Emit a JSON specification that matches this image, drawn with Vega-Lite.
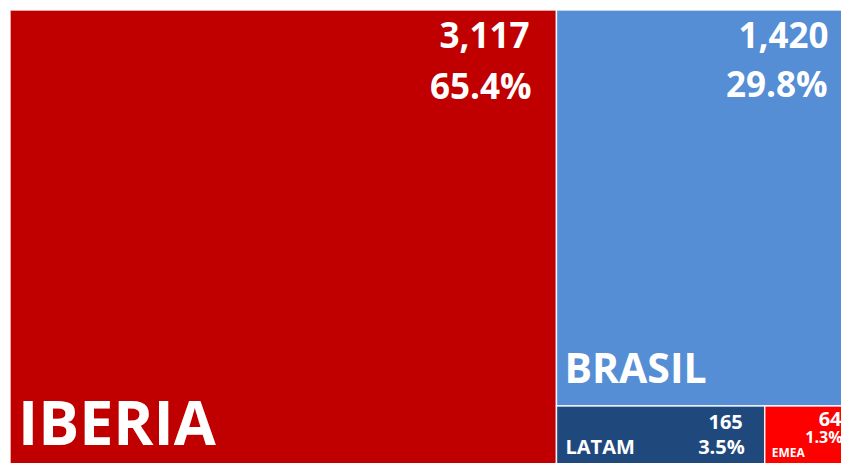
{
  "$schema": "https://vega.github.io/schema/vega-lite/v6.json",
  "width": 831,
  "height": 453,
  "autosize": "none",
  "padding": {"left": 10, "top": 10, "right": 0, "bottom": 0},
  "background": "white",
  "config": {"view": {"stroke": null}, "text": {"font": "Open Sans", "fontWeight": "bold", "color": "white", "fill": "white"}},
  "data": {
    "values": [
      {"name": "IBERIA", "value": 3117, "col": "A", "row": 1, "ord": 1},
      {"name": "BRASIL", "value": 1420, "col": "B", "row": 1, "ord": 2},
      {"name": "LATAM", "value": 165, "col": "B", "row": 2, "ord": 3},
      {"name": "EMEA", "value": 64, "col": "B", "row": 2, "ord": 4}
    ]
  },
  "transform": [
    {"joinaggregate": [{"op": "sum", "field": "value", "as": "total"}]},
    {"joinaggregate": [{"op": "sum", "field": "value", "as": "colSum"}], "groupby": ["col"]},
    {"joinaggregate": [{"op": "sum", "field": "value", "as": "rowSum"}], "groupby": ["col", "row"]},
    {"window": [{"op": "sum", "field": "value", "as": "cumAll"}], "sort": [{"field": "ord"}]},
    {"window": [{"op": "sum", "field": "value", "as": "cumCol"}], "sort": [{"field": "ord"}], "groupby": ["col"]},
    {"window": [{"op": "sum", "field": "value", "as": "cumRow"}], "sort": [{"field": "ord"}], "groupby": ["col", "row"]},
    {"calculate": "datum.cumAll - datum.cumCol", "as": "colStart"},
    {"calculate": "datum.cumCol - datum.cumRow", "as": "rowStart"},
    {"calculate": "datum.colStart + (datum.cumRow - datum.value) / datum.rowSum * datum.colSum", "as": "x0"},
    {"calculate": "datum.colStart + datum.cumRow / datum.rowSum * datum.colSum", "as": "x1"},
    {"calculate": "datum.rowStart / datum.colSum * datum.total", "as": "y0"},
    {"calculate": "(datum.rowStart + datum.rowSum) / datum.colSum * datum.total", "as": "y1"},
    {"calculate": "datum.value / datum.total", "as": "pct"}
  ],
  "layer": [
    {
      "mark": {"type": "rect", "stroke": "white", "strokeWidth": 1.5, "strokeOpacity": 0.85, "clip": true},
      "encoding": {
        "x": {"field": "x0", "type": "quantitative", "scale": {"domain": [0, 4740], "nice": false, "zero": false}, "axis": null},
        "x2": {"field": "x1"},
        "y": {"field": "y0", "type": "quantitative", "scale": {"domain": [0, 4694], "nice": false, "zero": false, "reverse": true}, "axis": null},
        "y2": {"field": "y1"},
        "color": {"field": "name", "type": "nominal", "legend": null, "scale": {"domain": ["IBERIA", "BRASIL", "LATAM", "EMEA"], "range": ["#C00000", "#558ED5", "#1F497D", "#FF0000"]}}
      }
    },
    {
      "transform": [{"filter": "datum.name == 'IBERIA'"}],
      "layer": [
        {"mark": {"type": "text", "align": "right", "baseline": "alphabetic", "fontSize": 35, "dx": -27, "dy": 38, "clip": true},
         "encoding": {"x": {"field": "x1", "type": "quantitative", "scale": {"domain": [0, 4740], "nice": false, "zero": false}, "axis": null},
                      "y": {"field": "y0", "type": "quantitative", "scale": {"domain": [0, 4694], "nice": false, "zero": false, "reverse": true}, "axis": null},
                      "text": {"field": "value", "type": "quantitative", "format": ","}}},
        {"mark": {"type": "text", "align": "right", "baseline": "alphabetic", "fontSize": 35, "dx": -25, "dy": 89, "clip": true},
         "encoding": {"x": {"field": "x1", "type": "quantitative", "scale": {"domain": [0, 4740], "nice": false, "zero": false}, "axis": null},
                      "y": {"field": "y0", "type": "quantitative", "scale": {"domain": [0, 4694], "nice": false, "zero": false, "reverse": true}, "axis": null},
                      "text": {"field": "pct", "type": "quantitative", "format": ".1%"}}},
        {"mark": {"type": "text", "align": "left", "baseline": "alphabetic", "fontSize": 61, "dx": 8, "dy": -25, "clip": true},
         "encoding": {"x": {"field": "x0", "type": "quantitative", "scale": {"domain": [0, 4740], "nice": false, "zero": false}, "axis": null},
                      "y": {"field": "y1", "type": "quantitative", "scale": {"domain": [0, 4694], "nice": false, "zero": false, "reverse": true}, "axis": null},
                      "text": {"field": "name", "type": "nominal"}}}
      ]
    },
    {
      "transform": [{"filter": "datum.name == 'BRASIL'"}],
      "layer": [
        {"mark": {"type": "text", "align": "right", "baseline": "alphabetic", "fontSize": 35, "dx": -17, "dy": 38, "clip": true},
         "encoding": {"x": {"field": "x1", "type": "quantitative", "scale": {"domain": [0, 4740], "nice": false, "zero": false}, "axis": null},
                      "y": {"field": "y0", "type": "quantitative", "scale": {"domain": [0, 4694], "nice": false, "zero": false, "reverse": true}, "axis": null},
                      "text": {"field": "value", "type": "quantitative", "format": ","}}},
        {"mark": {"type": "text", "align": "right", "baseline": "alphabetic", "fontSize": 35, "dx": -18, "dy": 87, "clip": true},
         "encoding": {"x": {"field": "x1", "type": "quantitative", "scale": {"domain": [0, 4740], "nice": false, "zero": false}, "axis": null},
                      "y": {"field": "y0", "type": "quantitative", "scale": {"domain": [0, 4694], "nice": false, "zero": false, "reverse": true}, "axis": null},
                      "text": {"field": "pct", "type": "quantitative", "format": ".1%"}}},
        {"mark": {"type": "text", "align": "left", "baseline": "alphabetic", "fontSize": 41, "dx": 8, "dy": -23, "clip": true},
         "encoding": {"x": {"field": "x0", "type": "quantitative", "scale": {"domain": [0, 4740], "nice": false, "zero": false}, "axis": null},
                      "y": {"field": "y1", "type": "quantitative", "scale": {"domain": [0, 4694], "nice": false, "zero": false, "reverse": true}, "axis": null},
                      "text": {"field": "name", "type": "nominal"}}}
      ]
    },
    {
      "transform": [{"filter": "datum.name == 'LATAM'"}],
      "layer": [
        {"mark": {"type": "text", "align": "right", "baseline": "alphabetic", "fontSize": 20, "dx": -22, "dy": 23, "clip": true},
         "encoding": {"x": {"field": "x1", "type": "quantitative", "scale": {"domain": [0, 4740], "nice": false, "zero": false}, "axis": null},
                      "y": {"field": "y0", "type": "quantitative", "scale": {"domain": [0, 4694], "nice": false, "zero": false, "reverse": true}, "axis": null},
                      "text": {"field": "value", "type": "quantitative", "format": ","}}},
        {"mark": {"type": "text", "align": "right", "baseline": "alphabetic", "fontSize": 20, "dx": -20, "dy": 48, "clip": true},
         "encoding": {"x": {"field": "x1", "type": "quantitative", "scale": {"domain": [0, 4740], "nice": false, "zero": false}, "axis": null},
                      "y": {"field": "y0", "type": "quantitative", "scale": {"domain": [0, 4694], "nice": false, "zero": false, "reverse": true}, "axis": null},
                      "text": {"field": "pct", "type": "quantitative", "format": ".1%"}}},
        {"mark": {"type": "text", "align": "left", "baseline": "alphabetic", "fontSize": 20, "dx": 9, "dy": -16, "clip": true},
         "encoding": {"x": {"field": "x0", "type": "quantitative", "scale": {"domain": [0, 4740], "nice": false, "zero": false}, "axis": null},
                      "y": {"field": "y1", "type": "quantitative", "scale": {"domain": [0, 4694], "nice": false, "zero": false, "reverse": true}, "axis": null},
                      "text": {"field": "name", "type": "nominal"}}}
      ]
    },
    {
      "transform": [{"filter": "datum.name == 'EMEA'"}],
      "layer": [
        {"mark": {"type": "text", "align": "right", "baseline": "alphabetic", "fontSize": 20, "dx": -4, "dy": 20, "clip": true},
         "encoding": {"x": {"field": "x1", "type": "quantitative", "scale": {"domain": [0, 4740], "nice": false, "zero": false}, "axis": null},
                      "y": {"field": "y0", "type": "quantitative", "scale": {"domain": [0, 4694], "nice": false, "zero": false, "reverse": true}, "axis": null},
                      "text": {"field": "value", "type": "quantitative", "format": ","}}},
        {"mark": {"type": "text", "align": "right", "baseline": "alphabetic", "fontSize": 16, "dx": -3, "dy": 37, "clip": true},
         "encoding": {"x": {"field": "x1", "type": "quantitative", "scale": {"domain": [0, 4740], "nice": false, "zero": false}, "axis": null},
                      "y": {"field": "y0", "type": "quantitative", "scale": {"domain": [0, 4694], "nice": false, "zero": false, "reverse": true}, "axis": null},
                      "text": {"field": "pct", "type": "quantitative", "format": ".1%"}}},
        {"mark": {"type": "text", "align": "left", "baseline": "alphabetic", "fontSize": 12, "dx": 7, "dy": -13, "clip": true},
         "encoding": {"x": {"field": "x0", "type": "quantitative", "scale": {"domain": [0, 4740], "nice": false, "zero": false}, "axis": null},
                      "y": {"field": "y1", "type": "quantitative", "scale": {"domain": [0, 4694], "nice": false, "zero": false, "reverse": true}, "axis": null},
                      "text": {"field": "name", "type": "nominal"}}}
      ]
    }
  ]
}
